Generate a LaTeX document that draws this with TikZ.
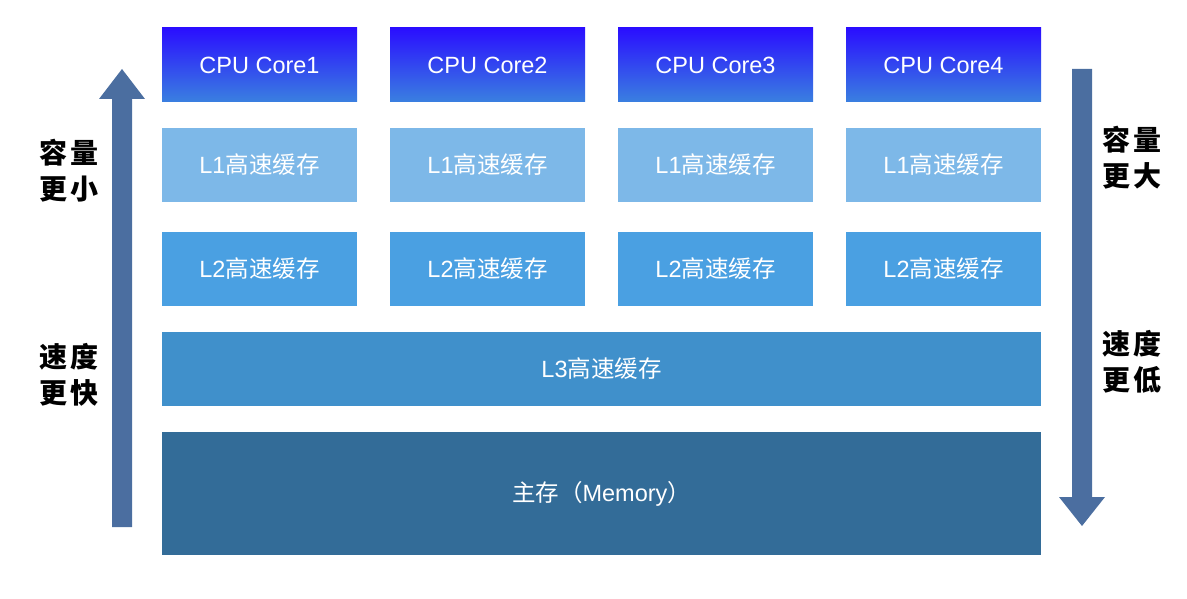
\documentclass[tikz,border=0pt]{standalone}
\usepackage{fontspec}
\setmainfont{Liberation Sans}
\newfontfamily\cjk{Noto Sans CJK SC}
\definecolor{cpuTop}{HTML}{2A0EFF}
\definecolor{cpuBot}{HTML}{3A80E0}
\definecolor{lone}{HTML}{7DB8E8}
\definecolor{ltwo}{HTML}{4AA0E2}
\definecolor{lthree}{HTML}{4090CB}
\definecolor{mem}{HTML}{336C98}
\definecolor{arr}{HTML}{4B6EA0}
\tikzset{
  blk/.style={anchor=north west, inner sep=0pt, outer sep=0pt, minimum width=195pt, minimum height=74pt, text=white, font=\fontsize{23.5}{27}\selectfont},
  cpubox/.style={blk, top color=cpuTop, bottom color=cpuBot},
  lonebox/.style={blk, fill=lone},
  ltwobox/.style={blk, fill=ltwo},
  widebox/.style={blk, minimum width=879pt},
  sidetxt/.style={align=center, inner sep=0pt, font=\cjk\bfseries\fontsize{28}{36}\selectfont},
  bigarrow/.style={fill=arr, draw=none}
}
\newcommand{\gs}{\hspace{4pt}}
\begin{document}
\begin{tikzpicture}[x=1pt,y=-1pt]
\useasboundingbox (0,0) rectangle (1187,599);
\foreach \i/\x in {1/162,2/390,3/618,4/846}{
  \node[cpubox] (cpu\i) at (\x,28) {CPU Core\i};
  \node[lonebox] (lone\i) at (\x,128) {L1{\cjk 高速缓存}};
  \node[ltwobox] (ltwo\i) at (\x,232) {L2{\cjk 高速缓存}};
}
\node[widebox, fill=lthree] (lthree) at (162,332) {L3{\cjk 高速缓存}};
\node[widebox, fill=mem, minimum height=123pt] (memory) at (162,432) {{\cjk 主存（}Memory{\cjk ）}};
% left up arrow
\fill[bigarrow] (112,527) -- (112,99) -- (99,99) -- (122,69) -- (145,99) -- (132,99) -- (132,527) -- cycle;
% right down arrow
\fill[bigarrow] (1072,69) -- (1072,497) -- (1059,497) -- (1082,526) -- (1105,497) -- (1092,497) -- (1092,69) -- cycle;
\node[sidetxt] (lcap) at (69,171) {容\gs 量\\更\gs 小};
\node[sidetxt] (lspd) at (69,375) {速\gs 度\\更\gs 快};
\node[sidetxt] (rcap) at (1132,158) {容\gs 量\\更\gs 大};
\node[sidetxt] (rspd) at (1132,362) {速\gs 度\\更\gs 低};
\end{tikzpicture}
\end{document}
